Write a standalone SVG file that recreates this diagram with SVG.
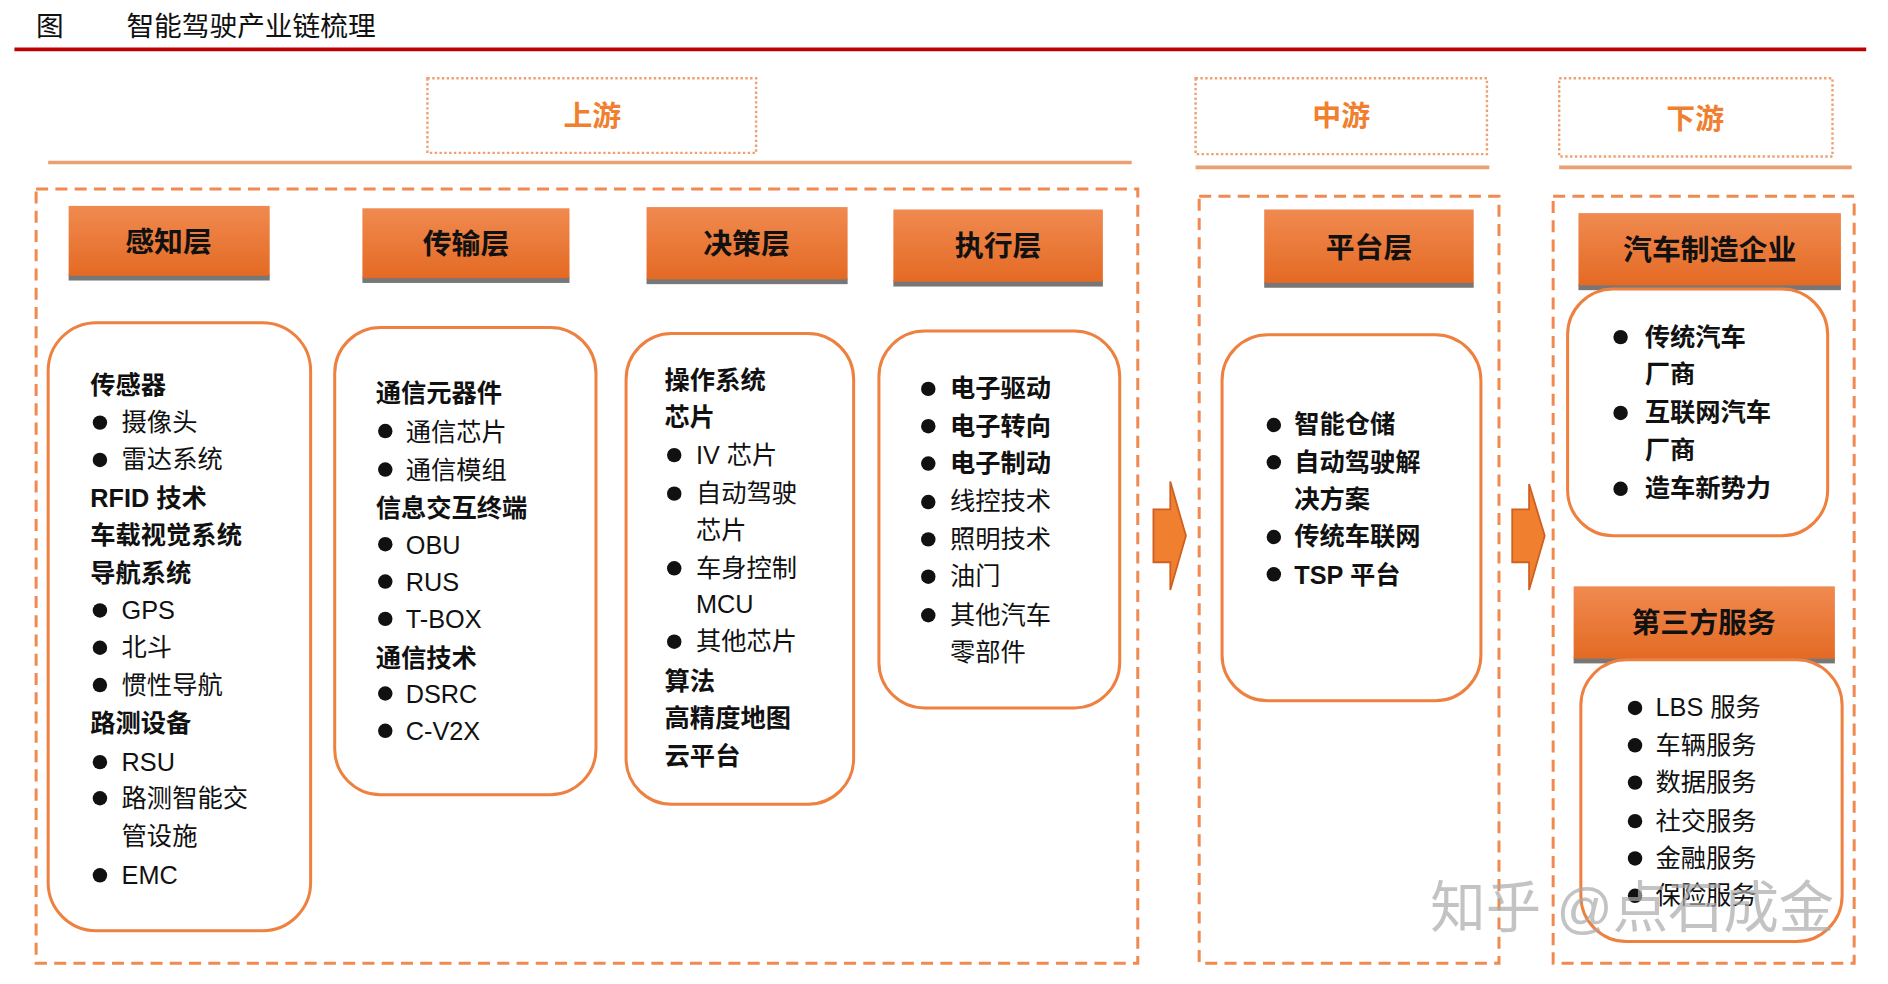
<svg xmlns="http://www.w3.org/2000/svg" width="1888" height="984" viewBox="0 0 1888 984">
<defs>
<linearGradient id="hg" x1="0" y1="0" x2="0" y2="1"><stop offset="0" stop-color="#f08a50"/><stop offset="1" stop-color="#e46a24"/></linearGradient>
<style>
text{font-family:"Liberation Sans","Noto Sans CJK SC",sans-serif;fill:#111;font-size:21px}
.b{font-weight:bold}
.hd{font-size:24px;font-weight:bold;text-anchor:middle}
.st{font-size:24px;font-weight:bold;fill:#f08030;text-anchor:middle}
.dot{fill:none;stroke:#f0a070;stroke-width:2;stroke-dasharray:2 2}
.ul{stroke:#eaa070;stroke-width:3}
.dash{fill:none;stroke:#f08a50;stroke-width:2.5;stroke-dasharray:10 6}
.hb{fill:url(#hg)}
.sh{fill:#777}
.rb{fill:#fff;stroke:#ee8040;stroke-width:2.5}
.bl{fill:#111}
.ar{fill:#f08030;stroke:#d06020;stroke-width:1.5}
.tt{font-size:23px}
.wm{font-size:46px;fill:#aaa;opacity:0.7}
</style>
</defs>
<rect width="1888" height="984" fill="#fff"/>
<g transform="scale(1.204)">
<g id="title">
<text class="tt" x="30" y="30">图</text>
<text class="tt" x="105" y="30">智能驾驶产业链梳理</text>
<line x1="12" y1="41" x2="1550" y2="41" stroke="#c00000" stroke-width="3"/>
</g>
<g id="stages">
<rect class="dot" x="355" y="65" width="273" height="62"/><text class="st" x="492" y="105">上游</text>
<rect class="dot" x="993" y="65" width="242" height="63"/><text class="st" x="1114" y="105">中游</text>
<rect class="dot" x="1295" y="65" width="227" height="65"/><text class="st" x="1408" y="107">下游</text>
<line class="ul" x1="40" y1="135" x2="940" y2="135"/>
<line class="ul" x1="993" y1="139" x2="1237" y2="139"/>
<line class="ul" x1="1295" y1="139" x2="1538" y2="139"/>
<rect class="dash" x="30" y="157" width="915" height="643"/>
<rect class="dash" x="996" y="163" width="249" height="637"/>
<rect class="dash" x="1290" y="163" width="250" height="637"/>
</g>
<g id="connectors">
<polygon class="ar" points="958,423 972,423 972,400 985,445 972,490 972,467 958,467"/>
<polygon class="ar" points="1256,423 1270,423 1270,402 1283,445 1270,490 1270,467 1256,467"/>
</g>
<g id="h-perception"><rect class="sh" x="57" y="228" width="167" height="5"/><rect class="hb" x="57" y="171" width="167" height="58"/><text class="hd" x="140" y="209">感知层</text></g>
<g id="h-transport"><rect class="sh" x="301" y="230" width="172" height="5"/><rect class="hb" x="301" y="173" width="172" height="58"/><text class="hd" x="387" y="211">传输层</text></g>
<g id="h-decision"><rect class="sh" x="537" y="231" width="167" height="5"/><rect class="hb" x="537" y="172" width="167" height="60"/><text class="hd" x="620" y="211">决策层</text></g>
<g id="h-exec"><rect class="sh" x="742" y="233" width="174" height="5"/><rect class="hb" x="742" y="174" width="174" height="60"/><text class="hd" x="829" y="213">执行层</text></g>
<g id="h-platform"><rect class="sh" x="1050" y="234" width="174" height="5"/><rect class="hb" x="1050" y="174" width="174" height="61"/><text class="hd" x="1137" y="214">平台层</text></g>
<g id="h-oem"><rect class="sh" x="1311" y="236" width="218" height="5"/><rect class="hb" x="1311" y="177" width="218" height="60"/><text class="hd" x="1420" y="216">汽车制造企业</text></g>
<g id="h-third"><rect class="sh" x="1307" y="546" width="217" height="5"/><rect class="hb" x="1307" y="487" width="217" height="60"/><text class="hd" x="1415" y="526">第三方服务</text></g>

<g id="b-perception"><rect class="rb" x="40" y="268" width="218" height="505" rx="40"/>
<text class="b" x="75" y="327">传感器</text>
<circle class="bl" cx="83" cy="351" r="6"/><text x="101" y="358">摄像头</text>
<circle class="bl" cx="83" cy="382" r="6"/><text x="101" y="389">雷达系统</text>
<text class="b" x="75" y="421">RFID 技术</text>
<text class="b" x="75" y="452">车载视觉系统</text>
<text class="b" x="75" y="483">导航系统</text>
<circle class="bl" cx="83" cy="507" r="6"/><text x="101" y="514">GPS</text>
<circle class="bl" cx="83" cy="538" r="6"/><text x="101" y="545">北斗</text>
<circle class="bl" cx="83" cy="569" r="6"/><text x="101" y="576">惯性导航</text>
<text class="b" x="75" y="608">路测设备</text>
<circle class="bl" cx="83" cy="633" r="6"/><text x="101" y="640">RSU</text>
<circle class="bl" cx="83" cy="663" r="6"/><text x="101" y="670">路测智能交</text>
<text x="101" y="702">管设施</text>
<circle class="bl" cx="83" cy="727" r="6"/><text x="101" y="734">EMC</text>
</g>
<g id="b-transport"><rect class="rb" x="278" y="272" width="217" height="388" rx="38"/>
<text class="b" x="312" y="334">通信元器件</text>
<circle class="bl" cx="320" cy="358" r="6"/><text x="337" y="366">通信芯片</text>
<circle class="bl" cx="320" cy="390" r="6"/><text x="337" y="398">通信模组</text>
<text class="b" x="312" y="429">信息交互终端</text>
<circle class="bl" cx="320" cy="452" r="6"/><text x="337" y="460">OBU</text>
<circle class="bl" cx="320" cy="483" r="6"/><text x="337" y="491">RUS</text>
<circle class="bl" cx="320" cy="514" r="6"/><text x="337" y="522">T-BOX</text>
<text class="b" x="312" y="554">通信技术</text>
<circle class="bl" cx="320" cy="576" r="6"/><text x="337" y="584">DSRC</text>
<circle class="bl" cx="320" cy="607" r="6"/><text x="337" y="615">C-V2X</text>
</g>
<g id="b-decision"><rect class="rb" x="520" y="277" width="189" height="391" rx="38"/>
<text class="b" x="552" y="323">操作系统</text>
<text class="b" x="552" y="354">芯片</text>
<circle class="bl" cx="560" cy="378" r="6"/><text x="578" y="385">IV 芯片</text>
<circle class="bl" cx="560" cy="410" r="6"/><text x="578" y="417">自动驾驶</text>
<text x="578" y="448">芯片</text>
<circle class="bl" cx="560" cy="472" r="6"/><text x="578" y="479">车身控制</text>
<text x="578" y="509">MCU</text>
<circle class="bl" cx="560" cy="533" r="6"/><text x="578" y="540">其他芯片</text>
<text class="b" x="552" y="573">算法</text>
<text class="b" x="552" y="604">高精度地图</text>
<text class="b" x="552" y="635">云平台</text>
</g>
<g id="b-exec"><rect class="rb" x="730" y="275" width="200" height="313" rx="38"/>
<circle class="bl" cx="771" cy="323" r="6"/><text class="b" x="789" y="330">电子驱动</text>
<circle class="bl" cx="771" cy="354" r="6"/><text class="b" x="789" y="361">电子转向</text>
<circle class="bl" cx="771" cy="385" r="6"/><text class="b" x="789" y="392">电子制动</text>
<circle class="bl" cx="771" cy="417" r="6"/><text x="789" y="424">线控技术</text>
<circle class="bl" cx="771" cy="448" r="6"/><text x="789" y="455">照明技术</text>
<circle class="bl" cx="771" cy="479" r="6"/><text x="789" y="486">油门</text>
<circle class="bl" cx="771" cy="511" r="6"/><text x="789" y="518">其他汽车</text>
<text x="789" y="549">零部件</text>
</g>
<g id="b-platform"><rect class="rb" x="1015" y="278" width="215" height="304" rx="38"/>
<circle class="bl" cx="1058" cy="353" r="6"/><text class="b" x="1075" y="360">智能仓储</text>
<circle class="bl" cx="1058" cy="384" r="6"/><text class="b" x="1075" y="391">自动驾驶解</text>
<text class="b" x="1075" y="422">决方案</text>
<circle class="bl" cx="1058" cy="446" r="6"/><text class="b" x="1075" y="453">传统车联网</text>
<circle class="bl" cx="1058" cy="477" r="6"/><text class="b" x="1075" y="485">TSP 平台</text>
</g>
<g id="b-oem"><rect class="rb" x="1302" y="240" width="216" height="205" rx="38"/>
<circle class="bl" cx="1346" cy="280" r="6"/><text class="b" x="1366" y="287">传统汽车</text>
<text class="b" x="1366" y="318">厂商</text>
<circle class="bl" cx="1346" cy="343" r="6"/><text class="b" x="1366" y="350">互联网汽车</text>
<text class="b" x="1366" y="381">厂商</text>
<circle class="bl" cx="1346" cy="406" r="6"/><text class="b" x="1366" y="413">造车新势力</text>
</g>
<g id="b-third"><rect class="rb" x="1313" y="548" width="217" height="234" rx="38"/>
<circle class="bl" cx="1358" cy="588" r="6"/><text x="1375" y="595">LBS 服务</text>
<circle class="bl" cx="1358" cy="619" r="6"/><text x="1375" y="626">车辆服务</text>
<circle class="bl" cx="1358" cy="650" r="6"/><text x="1375" y="657">数据服务</text>
<circle class="bl" cx="1358" cy="682" r="6"/><text x="1375" y="689">社交服务</text>
<circle class="bl" cx="1358" cy="713" r="6"/><text x="1375" y="720">金融服务</text>
<circle class="bl" cx="1358" cy="744" r="6"/><text x="1375" y="751">保险服务</text>
</g>
<text class="wm" x="1188" y="770">知乎 @点石成金</text>
</g>
</svg>
